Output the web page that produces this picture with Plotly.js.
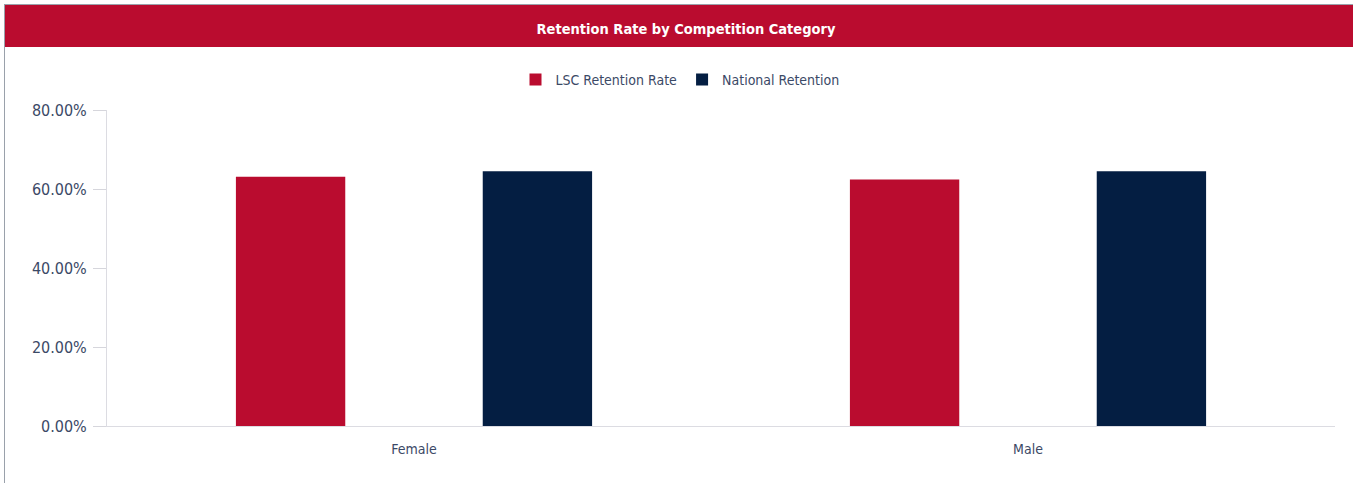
<!DOCTYPE html>
<html>
<head>
<meta charset="utf-8">
<script src="https://cdn.plot.ly/plotly-3.0.1.min.js"></script>
<style>
html,body{margin:0;padding:0;background:#fff;}
#chart{width:1353px;height:483px;}
</style>
</head>
<body>
<div id="chart"></div>
<script>
const categories = ["Female", "Male"];
const lscRetention = [63.1, 62.4];
const nationalRetention = [64.5, 64.5];
const seriesNames = ["LSC Retention Rate", "National Retention"];
const yTicks = [0, 20, 40, 60, 80];

const FONT = '"DejaVu Sans Condensed", "Liberation Sans Narrow", "Roboto", sans-serif';
const TXT = '#3b4966';

const L = 107, R = 18, T = 110, B = 57, W = 1353, H = 483;
const pw = W - L - R, ph = H - T - B;
const px = v => (v - L) / pw;
const py = v => (H - B - v) / ph;

const traces = [
  {type: 'bar', name: seriesNames[0], x: categories, y: lscRetention,
   marker: {color: '#ba0c2f'}, hoverinfo: 'x+y'},
  {type: 'bar', name: seriesNames[1], x: categories, y: nationalRetention,
   marker: {color: '#041e42'}, hoverinfo: 'x+y'}
];

const layout = {
  width: W, height: H,
  margin: {l: L, r: R, t: T, b: B, pad: 0},
  paper_bgcolor: '#fff', plot_bgcolor: '#fff',
  barmode: 'group', bargap: 0.196, bargroupgap: 0.557,
  font: {family: FONT, color: TXT, size: 13},
  title: {text: 'Retention Rate by Competition Category',
          font: {family: FONT, color: '#ffffff', size: 14.5, weight: 'bold'},
          x: 686 / W, xref: 'container', xanchor: 'center',
          y: 1 - 29 / H, yref: 'container', yanchor: 'middle'},
  showlegend: true,
  legend: {orientation: 'h', xref: 'container', yref: 'container',
           x: 680 / W, xanchor: 'center', y: 1 - 80 / H, yanchor: 'middle',
           font: {family: FONT, color: TXT, size: 14},
           itemwidth: 30, tracegroupgap: 0, itemclick: false},
  xaxis: {type: 'category', range: [-0.5, 1.5], showgrid: false, zeroline: false,
          showline: true, linecolor: '#dcdce2', linewidth: 1, ticks: '',
          ticklabelstandoff: 10,
          tickfont: {family: FONT, color: TXT, size: 14}, fixedrange: true},
  yaxis: {range: [0, 80], tickvals: yTicks, ticktext: yTicks.map(v => v.toFixed(2) + '%'),
          showgrid: false, zeroline: false, showline: true, linecolor: '#dcdce2', linewidth: 1,
          ticks: 'outside', ticklen: 13, tickcolor: '#d6d6dc', tickwidth: 1,
          ticklabelstandoff: 3,
          tickfont: {family: FONT, color: TXT, size: 16}, fixedrange: true},
  shapes: [
    {type: 'rect', xref: 'paper', yref: 'paper', layer: 'below',
     x0: px(5), x1: px(1353), y0: py(47), y1: py(5),
     fillcolor: '#ba0c2f', line: {width: 0}},
    {type: 'line', xref: 'paper', yref: 'paper', x0: px(4.5), x1: px(4.5), y0: py(4), y1: py(483),
     line: {color: '#9aa1ab', width: 1}},
    {type: 'line', xref: 'paper', yref: 'paper', x0: px(4), x1: px(1353), y0: py(4.5), y1: py(4.5),
     line: {color: '#9aa1ab', width: 1}}
  ]
};

Plotly.newPlot('chart', traces, layout, {displayModeBar: false, responsive: false});
</script>
</body>
</html>
